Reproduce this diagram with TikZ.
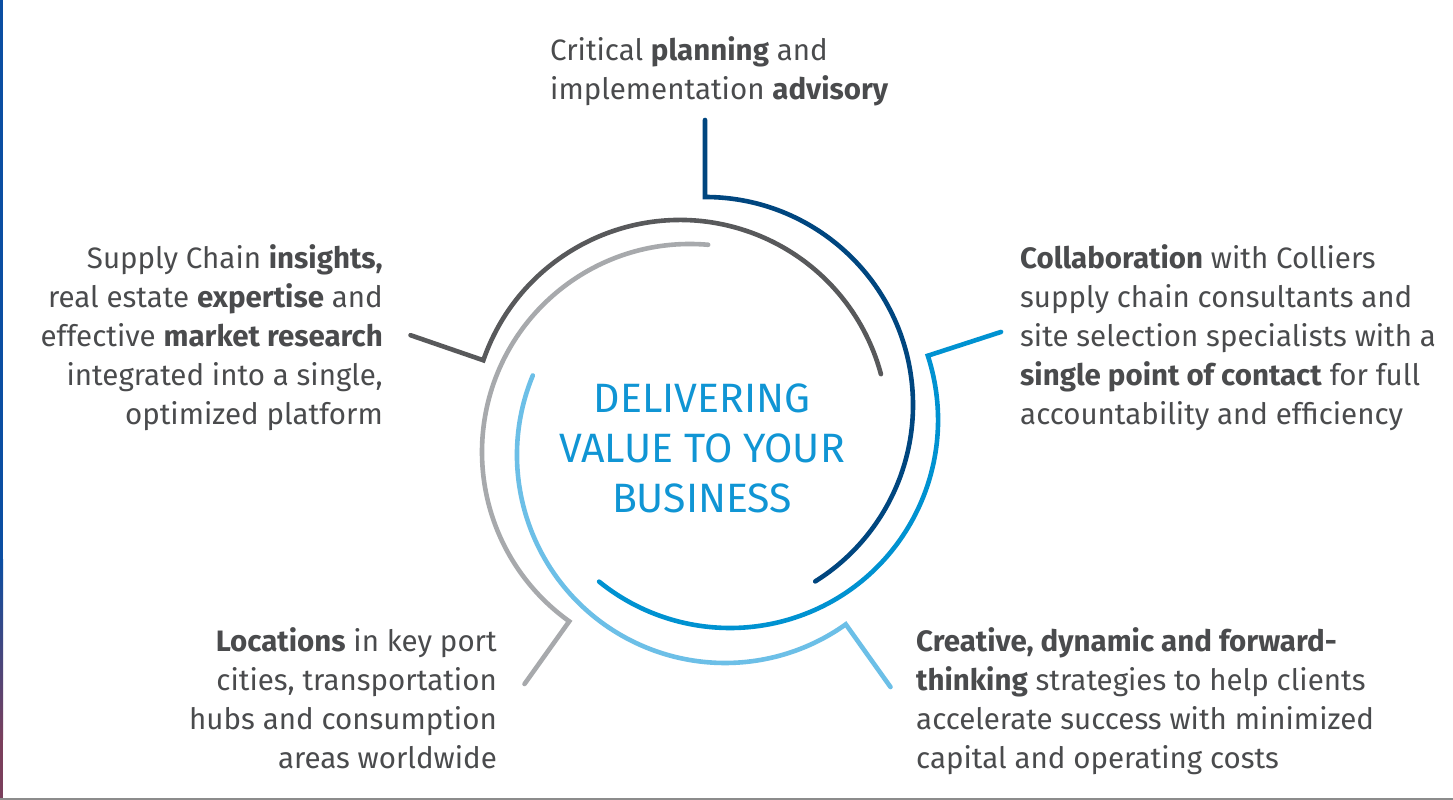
\documentclass[tikz,border=0pt]{standalone}
\usepackage{fontspec}
\setmainfont{Fira Sans}
\definecolor{dgray}{HTML}{58595B}
\definecolor{lgray}{HTML}{A7A9AC}
\definecolor{navy}{HTML}{00467F}
\definecolor{midblue}{HTML}{0092D1}
\definecolor{lblue}{HTML}{6CBFE7}
\definecolor{ctext}{HTML}{1095D4}
\definecolor{btext}{HTML}{4A4B4D}
\definecolor{edgeblue}{HTML}{0B4EA2}
\definecolor{edgered}{HTML}{7A3F5C}
\begin{document}
\begin{tikzpicture}[x=1pt,y=1pt,
  ring/.style={line width=4.6pt,line cap=round,line join=miter},
  body/.style={inner sep=0pt,text=btext,font=\fontsize{29.5}{39}\selectfont},
  centre/.style={inner sep=0pt,text=ctext,align=center,font=\fontsize{41}{50}\selectfont}]
\useasboundingbox (0,0) rectangle (1453,800);
\fill[white] (0,0) rectangle (1453,800);
% left edge stripe
\fill[edgeblue] (0,240) rectangle (3,800);
\shade[top color=edgeblue,bottom color=edgered] (0,60) rectangle (3,240);
\fill[edgered] (0,0) rectangle (3,60);
\fill[black!45] (0,0) rectangle (1453,2);
% centres of the five arcs
\coordinate (cDG) at (680,372);
\coordinate (cNV) at (705,395);
\coordinate (cBL) at (730,380);
\coordinate (cLB) at (725,345);
\coordinate (cLG) at (690,348);
% tick ends
\coordinate (tDG) at ([shift={(161:285)}]cDG);
\coordinate (tNV) at ([shift={(90:285)}]cNV);
\coordinate (tBL) at ([shift={(18:285)}]cBL);
\coordinate (tLB) at ([shift={(305.5:285)}]cLB);
\coordinate (tLG) at ([shift={(234.5:285)}]cLG);
% arcs
\draw[ring,dgray] (tDG) -- ([shift={(161:208)}]cDG) arc[start angle=161,end angle=15,radius=208];
\draw[ring,navy] (tNV) -- ([shift={(90:208)}]cNV) arc[start angle=90,end angle=-58,radius=208];
\draw[ring,midblue] (tBL) -- ([shift={(18:208)}]cBL) arc[start angle=18,end angle=-129,radius=208];
\draw[ring,lgray] ([shift={(85:208)}]cLG) arc[start angle=85,end angle=234.5,radius=208] -- (tLG);
\draw[ring,lblue] ([shift={(157.5:208)}]cLB) arc[start angle=157.5,end angle=305.5,radius=208] -- (tLB);
% centre text (base = last line)
\node[centre,anchor=base] (core) at (702,287) {DELIVERING\\VALUE TO YOUR\\BUSINESS};
% texts (base anchor = baseline of last line)
\node[body,anchor=base west,align=left] (plan) at (550,700) {Critical \textbf{planning} and\\implementation \textbf{advisory}};
\node[body,anchor=base east,align=right] (insight) at (383,375) {Supply Chain \textbf{insights,}\\real estate \textbf{expertise} and\\effective \textbf{market research}\\integrated into a single,\\optimized platform};
\node[body,anchor=base west,align=left] (collab) at (1020,375) {\textbf{Collaboration} with Colliers\\supply chain consultants and\\site selection specialists with a\\\textbf{single point of contact} for full\\accountability and efficiency};
\node[body,anchor=base east,align=right] (locat) at (497,31) {\textbf{Locations} in key port\\cities, transportation\\hubs and consumption\\areas worldwide};
\node[body,anchor=base west,align=left] (creat) at (916,31) {\textbf{Creative, dynamic and forward-}\\\textbf{thinking} strategies to help clients\\accelerate success with minimized\\capital and operating costs};
\end{tikzpicture}
\end{document}
